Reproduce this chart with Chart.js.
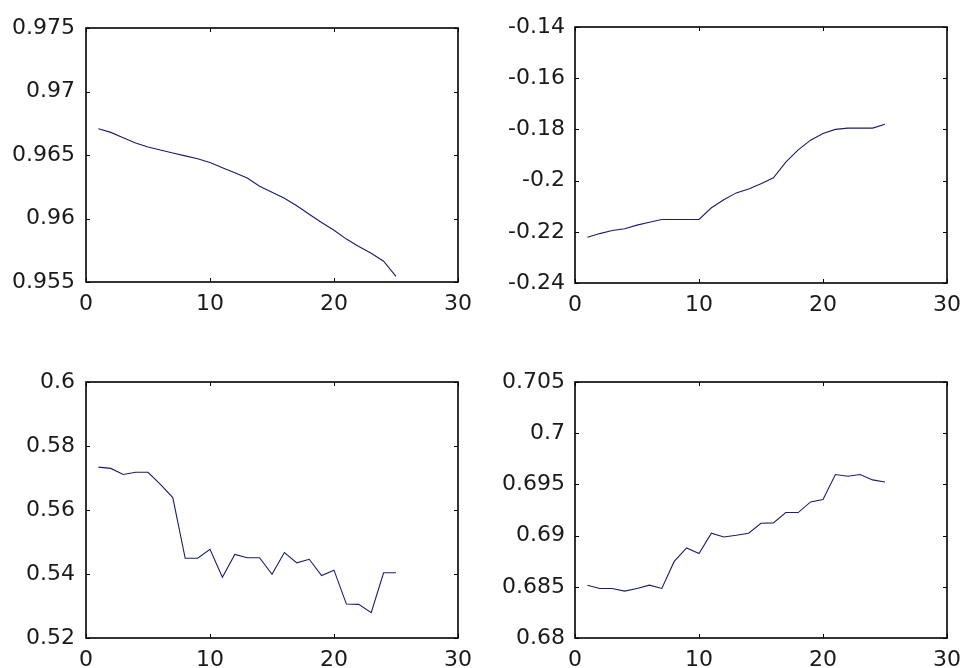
<!DOCTYPE html>
<html>
<head>
<meta charset="utf-8">
<script src="https://cdn.jsdelivr.net/npm/chart.js@4/dist/chart.umd.min.js"></script>
<style>
  html, body { margin: 0; padding: 0; background: #fff; }
  body { width: 961px; height: 668px; position: relative; overflow: hidden; }
  .panel { position: absolute; }
</style>
</head>
<body>
<div class="panel" style="left:0;top:0;width:480px;height:320px"><canvas id="c1"></canvas></div>
<div class="panel" style="left:480px;top:0;width:481px;height:320px"><canvas id="c2"></canvas></div>
<div class="panel" style="left:0;top:320px;width:480px;height:348px"><canvas id="c3"></canvas></div>
<div class="panel" style="left:480px;top:320px;width:481px;height:348px"><canvas id="c4"></canvas></div>
<script>
// x positions (1..25)
const xValues = [1, 2, 3, 4, 5, 6, 7, 8, 9, 10, 11, 12, 13, 14, 15, 16, 17, 18, 19, 20, 21, 22, 23, 24, 25];

// series
const seriesTopLeft = [0.96706, 0.96678, 0.96636, 0.96594, 0.96563, 0.9654, 0.96516, 0.96493, 0.9647, 0.96441,
  0.964, 0.9636, 0.96319, 0.96254, 0.96207, 0.9616, 0.961, 0.96033, 0.95968, 0.95908,
  0.95838, 0.9578, 0.95726, 0.95664, 0.95544];
const seriesTopRight = [-0.2221, -0.2207, -0.2195, -0.2188, -0.2174, -0.2163, -0.2152, -0.2152, -0.2152, -0.2152,
  -0.2106, -0.2075, -0.2048, -0.2033, -0.2012, -0.1989, -0.1928, -0.188, -0.1842, -0.1816,
  -0.18, -0.1795, -0.1795, -0.1795, -0.178];
const seriesBottomLeft = [0.5734, 0.573, 0.5711, 0.5718, 0.5718, 0.568, 0.5639, 0.5449, 0.5449, 0.5477,
  0.539, 0.5461, 0.5451, 0.5451, 0.5399, 0.5467, 0.5435, 0.5446, 0.5395, 0.5412,
  0.5306, 0.5305, 0.5279, 0.5404, 0.5404];
const seriesBottomRight = [0.68516, 0.68484, 0.68484, 0.68458, 0.68484, 0.68516, 0.68484, 0.68748, 0.6888, 0.68825,
  0.69023, 0.68987, 0.69003, 0.69023, 0.6912, 0.69124, 0.69225, 0.69225, 0.69329, 0.69352,
  0.69596, 0.6958, 0.69596, 0.69544, 0.69524];

// axis ranges / tick steps
const xTicks = [0, 10, 20, 30];
const yTopLeft = [0.955, 0.975, 0.005];
const yTopRight = [-0.24, -0.14, 0.02];
const yBottomLeft = [0.52, 0.6, 0.02];
const yBottomRight = [0.68, 0.705, 0.005];

const lineColor = '#1c1c6b';
const textColor = '#1a1a1a';
const yFont = { family: "'DejaVu Sans', sans-serif", size: 22 };
// tall line height pushes the x labels down a bit without adding side padding
const xFont = { family: "'DejaVu Sans', sans-serif", size: 22, lineHeight: 2.05 };

// box around the plot area plus small inward ticks, matlab style
const boxPlugin = {
  id: 'box',
  afterDraw(chart) {
    const ctx = chart.ctx;
    const a = chart.chartArea;
    const xs = chart.scales.x, ys = chart.scales.y;
    ctx.save();
    ctx.strokeStyle = '#000';
    ctx.lineWidth = 1;
    ctx.beginPath();
    xs.ticks.forEach(t => {
      const px = Math.round(xs.getPixelForValue(t.value)) + 0.5;
      ctx.moveTo(px, a.bottom); ctx.lineTo(px, a.bottom - 4);
      ctx.moveTo(px, a.top); ctx.lineTo(px, a.top + 4);
    });
    ys.ticks.forEach(t => {
      const py = Math.round(ys.getPixelForValue(t.value)) + 0.5;
      ctx.moveTo(a.left, py); ctx.lineTo(a.left + 4, py);
      ctx.moveTo(a.right, py); ctx.lineTo(a.right - 4, py);
    });
    ctx.stroke();
    ctx.lineWidth = 1.6;
    ctx.strokeRect(a.left, a.top, a.right - a.left, a.bottom - a.top);
    ctx.restore();
  }
};

function makePlot(id, values, yRange, pad, yWidth, xHeight, yPad) {
  const ctx = document.getElementById(id).getContext('2d');
  new Chart(ctx, {
    type: 'line',
    data: {
      datasets: [{
        data: xValues.map((x, i) => ({ x: x, y: values[i] })),
        borderColor: lineColor,
        borderWidth: 1.1,
        pointRadius: 0,
        tension: 0,
        fill: false
      }]
    },
    options: {
      responsive: true,
      maintainAspectRatio: false,
      animation: false,
      layout: { padding: pad },
      plugins: { legend: { display: false }, tooltip: { enabled: false } },
      scales: {
        x: {
          type: 'linear',
          min: xTicks[0],
          max: xTicks[xTicks.length - 1],
          afterBuildTicks: s => { s.ticks = xTicks.map(v => ({ value: v })); },
          grid: { display: false, drawTicks: false },
          border: { display: false },
          ticks: { color: textColor, font: xFont, padding: 0, maxRotation: 0 },
          afterFit: s => { s.height = xHeight; }
        },
        y: {
          min: yRange[0],
          max: yRange[1],
          grid: { display: false, drawTicks: false },
          border: { display: false },
          ticks: {
            stepSize: yRange[2],
            color: textColor,
            font: yFont,
            padding: yPad,
            callback: v => String(Number(v.toFixed(4)))
          },
          afterFit: s => { s.width = yWidth; }
        }
      }
    },
    plugins: [boxPlugin]
  });
}

makePlot('c1', seriesTopLeft, yTopLeft, { top: 28, right: 22, left: 0, bottom: 0 }, 86, 38, 11);
makePlot('c2', seriesTopRight, yTopRight, { top: 27, right: 14, left: 0, bottom: 0 }, 95, 37, 10);
makePlot('c3', seriesBottomLeft, yBottomLeft, { top: 62, right: 22, left: 0, bottom: 0 }, 86, 30, 11);
makePlot('c4', seriesBottomRight, yBottomRight, { top: 62, right: 14, left: 0, bottom: 0 }, 95, 30, 10);
</script>
</body>
</html>
